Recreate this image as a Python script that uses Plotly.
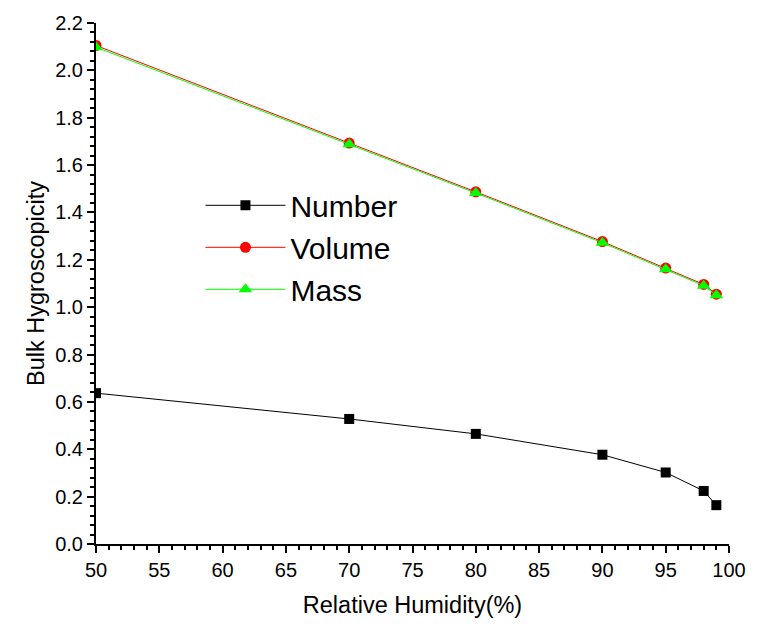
import plotly.graph_objects as go

# Relative humidity (%) and bulk hygroscopicity for three weightings
rh = [50, 70, 80, 90, 95, 98, 99]
number = [0.637, 0.528, 0.465, 0.377, 0.302, 0.224, 0.164]
volume = [2.105, 1.693, 1.487, 1.277, 1.165, 1.096, 1.055]
mass = [2.098, 1.688, 1.482, 1.272, 1.160, 1.091, 1.050]

FONT = "Liberation Sans, Arial, sans-serif"

fig = go.Figure()
fig.add_trace(go.Scatter(
    x=rh, y=number, name="Number", mode="lines+markers",
    line=dict(color="black", width=1),
    marker=dict(symbol="square", size=10, color="black"),
))
fig.add_trace(go.Scatter(
    x=rh, y=volume, name="Volume", mode="lines+markers",
    line=dict(color="#ff0000", width=1),
    marker=dict(symbol="circle", size=11, color="#ff0000"),
))
fig.add_trace(go.Scatter(
    x=rh, y=mass, name="Mass", mode="lines+markers",
    line=dict(color="#00ff00", width=1),
    marker=dict(symbol="triangle-up", size=12, color="#00ff00"),
))

axis_common = dict(
    showgrid=False, zeroline=False, showline=True, linecolor="black",
    linewidth=2, ticks="outside", ticklen=7, tickwidth=2, tickcolor="black",
    tickfont=dict(family=FONT, size=20, color="black"), mirror=False,
)

fig.update_xaxes(
    range=[50, 100], dtick=5, tick0=50,
    minor=dict(dtick=1, ticks="outside", ticklen=4, tickwidth=2, tickcolor="black"),
    title=dict(text="Relative Humidity(%)", font=dict(family=FONT, size=23.5, color="black"), standoff=17),
    **axis_common,
)
fig.update_yaxes(
    range=[0, 2.2], dtick=0.2, tick0=0, tickformat=".1f",
    minor=dict(dtick=0.04, ticks="outside", ticklen=4, tickwidth=2, tickcolor="black"),
    title=dict(text="Bulk Hygroscopicity", font=dict(family=FONT, size=23.5, color="black"), standoff=4),
    **axis_common,
)

fig.update_layout(
    width=758, height=626,
    margin=dict(l=96, r=19, t=20, b=82),
    plot_bgcolor="white", paper_bgcolor="white",
    showlegend=True,
    legend=dict(
        x=0.165, y=0.70, xanchor="left", yanchor="top",
        bgcolor="rgba(0,0,0,0)", borderwidth=0,
        font=dict(family=FONT, size=30, color="black"),
        itemwidth=80, tracegroupgap=0,
    ),
)

fig.write_html("out.html")
